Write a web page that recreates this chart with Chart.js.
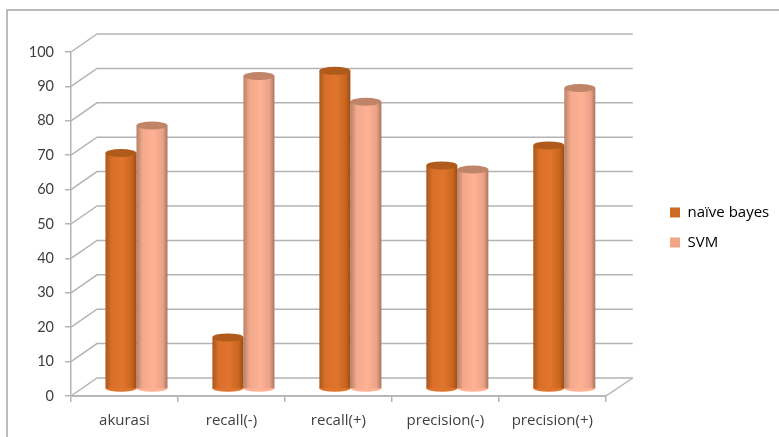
<!DOCTYPE html>
<html>
<head>
<meta charset="utf-8">
<style>
  html, body { margin: 0; padding: 0; background: #fff; }
  #wrap { width: 779px; height: 437px; }
</style>
<script src="https://cdn.jsdelivr.net/npm/chart.js@4"></script>
</head>
<body>
<div id="wrap"><canvas id="myChart" width="779" height="437"></canvas></div>
<script>
const categories = ["akurasi", "recall(-)", "recall(+)", "precision(-)", "precision(+)"];
const naiveBayes = [68.6, 15, 92.5, 65, 70.8];
const svm = [76.6, 91, 83.5, 63.8, 87.5];
const seriesNames = ["naïve bayes", "SVM"];
const yTicks = [0, 10, 20, 30, 40, 50, 60, 70, 80, 90, 100];

const gridColor = "#b4b4b4";
const textColor = "#404040";
const labelFont = { family: "'Open Sans', sans-serif", size: 15 };
const tickFont = { family: "Lato, sans-serif", size: 14.5 };
// depth of the fake 3d box
const wallX = 26, wallY = -18;
const barX = 12, barY = -7;
const barWidth = 31;

const palettes = [
  { legend: "#cc6a26", cap: "#b05a1c", stops: ["#a9571b", "#d96f2a", "#e0752e", "#c9651f", "#9a4d16"] },
  { legend: "#f0a488", cap: "#c08468", stops: ["#b98066", "#f2a98c", "#ffb193", "#eba288", "#a97560"] },
];

function barGradient(context) {
  const chart = context.chart;
  const scale = chart.scales.x;
  if (!scale || context.dataIndex === undefined) return palettes[context.datasetIndex].legend;
  const center = scale.getPixelForValue(context.dataIndex) + (context.datasetIndex - 0.5) * barWidth;
  const g = chart.ctx.createLinearGradient(center - barWidth / 2, 0, center + barWidth / 2, 0);
  const stops = palettes[context.datasetIndex].stops;
  g.addColorStop(0, stops[0]);
  g.addColorStop(0.2, stops[1]);
  g.addColorStop(0.55, stops[2]);
  g.addColorStop(0.85, stops[3]);
  g.addColorStop(1, stops[4]);
  return g;
}

const box3d = {
  id: "box3d",
  beforeDraw(chart) {
    const { ctx, chartArea: a, scales: { y } } = chart;
    ctx.save();
    // outer frame of the picture, open on the right
    ctx.strokeStyle = "#a6a6a6";
    ctx.lineWidth = 1.5;
    ctx.beginPath();
    ctx.moveTo(7, 437);
    ctx.lineTo(7, 10);
    ctx.lineTo(779, 10);
    ctx.stroke();

    ctx.strokeStyle = gridColor;
    ctx.lineWidth = 1.5;
    yTicks.forEach((v) => {
      const py = y.getPixelForValue(v);
      ctx.beginPath();
      ctx.moveTo(a.left, py);
      ctx.lineTo(a.left + wallX, py + wallY);
      ctx.lineTo(a.right + wallX + 1, py + wallY);
      ctx.stroke();
    });
    // floor front edge and right side
    const y0 = y.getPixelForValue(0);
    ctx.beginPath();
    ctx.moveTo(a.left, y0);
    ctx.lineTo(a.right, y0);
    ctx.lineTo(a.right + wallX + 1, y0 + wallY);
    ctx.stroke();
    ctx.restore();
  },
  beforeDatasetsDraw(chart) {
    chart.ctx.save();
    chart.ctx.translate(barX, barY);
  },
  beforeDatasetDraw(chart, args) {
    const { ctx } = chart;
    const color = palettes[args.index].stops[2];
    ctx.save();
    ctx.fillStyle = color;
    args.meta.data.forEach((bar) => {
      ctx.beginPath();
      ctx.ellipse(bar.x, bar.base, barWidth / 2, 3.5, 0, 0, Math.PI * 2);
      ctx.fill();
    });
    ctx.restore();
  },
  afterDatasetDraw(chart, args) {
    const { ctx } = chart;
    ctx.save();
    ctx.fillStyle = palettes[args.index].cap;
    args.meta.data.forEach((bar) => {
      ctx.beginPath();
      ctx.ellipse(bar.x, bar.y, barWidth / 2, 4, 0, 0, Math.PI * 2);
      ctx.fill();
    });
    ctx.restore();
  },
  afterDatasetsDraw(chart) {
    chart.ctx.restore();
  },
  afterLayout(chart) {
    // legend sits away from the plot, like the original
    const legend = chart.legend;
    const shift = 670 - legend.left - legend.options.labels.padding;
    legend.left += shift;
    legend.right += shift;
    legend.top -= 17;
    legend.bottom -= 17;
    legend.adjustHitBoxes();
  },
};

new Chart(document.getElementById("myChart").getContext("2d"), {
  type: "bar",
  data: {
    labels: categories,
    datasets: [
      { label: seriesNames[0], data: naiveBayes, backgroundColor: barGradient, clip: false },
      { label: seriesNames[1], data: svm, backgroundColor: barGradient, clip: false },
    ],
  },
  options: {
    responsive: false,
    animation: false,
    layout: { padding: { top: 52, right: 49, left: 0, bottom: 0 } },
    datasets: { bar: { categoryPercentage: 0.58, barPercentage: 1 } },
    plugins: {
      tooltip: { enabled: false },
      legend: {
        position: "right",
        align: "center",
        labels: {
          boxWidth: 10,
          boxHeight: 10,
          padding: 15,
          color: textColor,
          font: labelFont,
          generateLabels: () => seriesNames.map((text, i) => ({
            text,
            fillStyle: palettes[i].legend,
            strokeStyle: palettes[i].legend,
            lineWidth: 0,
            datasetIndex: i,
          })),
        },
      },
    },
    scales: {
      x: {
        afterFit: (scale) => { scale.height = 41; },
        border: { color: gridColor, width: 1.5 },
        grid: { drawOnChartArea: false, color: gridColor, tickLength: 6, lineWidth: 1.5 },
        ticks: { color: textColor, padding: 10, maxRotation: 0, font: labelFont },
      },
      y: {
        min: 0,
        max: 100,
        afterFit: (scale) => { scale.width = 71; },
        border: { color: gridColor, width: 1.5 },
        grid: { drawOnChartArea: false, color: gridColor, tickLength: 6, lineWidth: 1.5 },
        ticks: { stepSize: 10, color: textColor, padding: 11, font: tickFont },
      },
    },
  },
  plugins: [box3d],
});
</script>
</body>
</html>
